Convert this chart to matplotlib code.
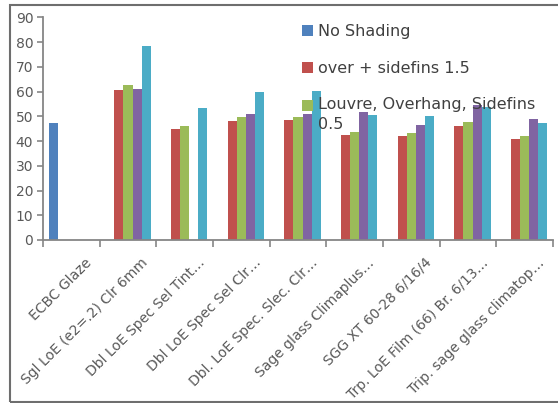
import numpy as np
import matplotlib
matplotlib.use("Agg")
import matplotlib.pyplot as plt
from matplotlib.patches import Rectangle
from matplotlib.transforms import ScaledTranslation

categories = [
    "ECBC Glaze",
    "Sgl LoE (e2=.2) Clr 6mm",
    "Dbl LoE Spec Sel Tint…",
    "Dbl LoE Spec Sel Clr…",
    "Dbl. LoE Spec. Slec. Clr…",
    "Sage glass Climaplus…",
    "SGG XT 60-28 6/16/4",
    "Trp. LoE Film (66) Br. 6/13…",
    "Trip. sage glass climatop…",
]

nan = np.nan
no_shading = [47.2, nan, nan, nan, nan, nan, nan, nan, nan]
over_sidefins = [nan, 60.5, 45.0, 48.1, 48.4, 42.3, 42.0, 46.0, 40.8]
louvre_overhang = [nan, 62.8, 46.2, 49.9, 49.9, 43.7, 43.1, 47.6, 41.9]
series_four = [nan, 61.0, nan, 50.9, 51.1, 51.6, 46.5, 54.6, 48.9]
series_five = [nan, 78.4, 53.2, 60.0, 60.2, 50.4, 50.1, 53.9, 47.3]

series = [no_shading, over_sidefins, louvre_overhang, series_four, series_five]
labels = ["No Shading", "over + sidefins 1.5", "Louvre, Overhang, Sidefins\n0.5"]
colors = ["#4F81BD", "#C0504D", "#9BBB59", "#8064A2", "#4BACC6"]

W, H = 558, 403
fig = plt.figure(figsize=(W / 100, H / 100), dpi=100)
ax = fig.add_axes([43 / W, 1 - 240 / H, (553 - 43) / W, (240 - 17.3) / H])

x = np.arange(len(categories))
bw = 0.159
handles = []
for i, (vals, col) in enumerate(zip(series, colors)):
    bars = ax.bar(x + (i - 2) * bw, vals, width=bw, color=col, zorder=2)
    handles.append(bars)

ax.set_xlim(-0.5, len(categories) - 0.5)
ax.set_ylim(0, 90)
ax.set_yticks(np.arange(0, 91, 10))

grey = "#868686"
txt = "#595959"
for s in ["top", "right"]:
    ax.spines[s].set_visible(False)
for s in ["left", "bottom"]:
    ax.spines[s].set_color(grey)
    ax.spines[s].set_linewidth(1.3)

ax.tick_params(axis="y", colors=grey, labelcolor=txt, labelsize=10, length=4, width=1.2, pad=3)
ax.set_xticks(x)
ax.set_xticklabels(categories, rotation=45, ha="right", rotation_mode="anchor", color=txt, fontsize=10)
ax.tick_params(axis="x", which="major", length=0, pad=9)
shift = ScaledTranslation(13 / 100, -3 / 100, fig.dpi_scale_trans)
for lab in ax.get_xticklabels():
    lab.set_transform(lab.get_transform() + shift)
ax.set_xticks(np.arange(-0.5, len(categories), 1), minor=True)
ax.tick_params(axis="x", which="minor", length=5, width=1.2, color=grey)

leg = ax.legend([handles[0], handles[1], handles[2]], labels,
                loc="upper left", bbox_to_anchor=(302 / W, 1 - 24 / H),
                bbox_transform=fig.transFigure, frameon=False, fontsize=11.5,
                handlelength=0.7, handleheight=0.7, handletextpad=0.3,
                labelspacing=1.36, borderpad=0, borderaxespad=0)
for t in leg.get_texts():
    t.set_color("#404040")
    t.set_linespacing(1.35)
# keep the two-line entry's swatch level with its first line
sw = leg.legend_handles[2]
sw.set_y(sw.get_y() + 6.8)

fig.patches.append(Rectangle((10 / W, 1 - 402 / H), 600 / W, 397 / H,
                             transform=fig.transFigure, fill=False,
                             edgecolor="#6e6e6e", linewidth=1.5))

fig.savefig("out.png", dpi=100)
